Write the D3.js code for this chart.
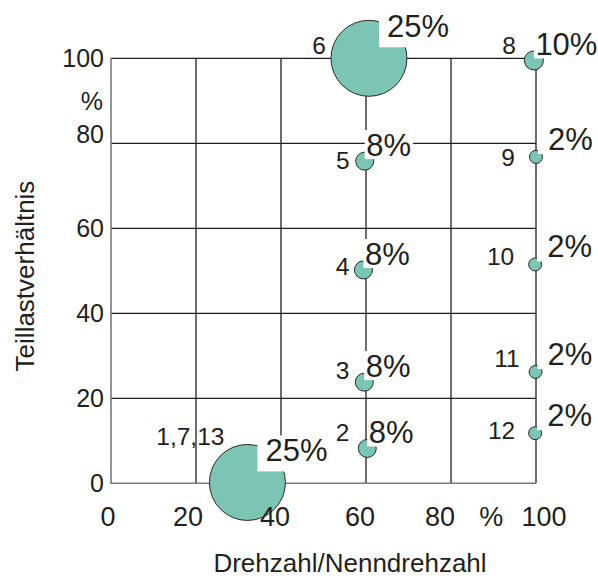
<!DOCTYPE html>
<html>
<head>
<meta charset="utf-8">
<script src="https://cdn.jsdelivr.net/npm/d3@7"></script>
<style>
  html, body { margin: 0; padding: 0; background: #fff; }
  svg { display: block; }
  text { font-family: "Liberation Sans", Arial, sans-serif; fill: #231f20; }
</style>
</head>
<body>
<svg id="chart" width="598" height="579"></svg>
<script>
// ---- data ----
const pointIds   = ["1,7,13", "2", "3", "4", "5", "6", "8", "9", "10", "11", "12"];
const speedPct   = [32.1, 60.3, 59.6, 59.4, 59.7, 60.7, 99.5, 100, 99.8, 99.9, 99.8];
const loadPct    = [0.2, 8.2, 23.8, 50.2, 75.8, 100, 99.5, 76.8, 51.5, 26.2, 11.8];
const weightPct  = [25, 8, 8, 8, 8, 25, 10, 2, 2, 2, 2];
const xTickValues = [0, 20, 40, 60, 80, 100];
const yTickValues = [0, 20, 40, 60, 80, 100];
const xTitle = "Drehzahl/Nenndrehzahl";
const yTitle = "Teillastverhältnis";
const unitLabel = "%";

// ---- layout ----
const svg = d3.select("#chart");
const x = d3.scaleLinear().domain([0, 100]).range([111, 536]);
const y = d3.scaleLinear().domain([0, 100]).range([483.3, 58.3]);
const r = d3.scaleLinear().domain([2, 8, 10, 25]).range([6.5, 9, 9.5, 38]);

// id label placement relative to marker centre (right end, baseline)
const idOffset = {
  "1,7,13": [-23, -37], "2": [-18, -7], "3": [-15, -3], "4": [-14, 5],
  "5": [-15, 8], "6": [-43, -4], "8": [-18, -6], "9": [-21, 9],
  "10": [-21, 1], "11": [-16, -5], "12": [-20, 6]
};

const points = pointIds.map((id, i) => ({
  id, sx: speedPct[i], ly: loadPct[i], w: weightPct[i]
}));

const gridColor = "#1f1f1f";

// grid lines
const grid = svg.append("g");
grid.selectAll("line.v").data(xTickValues.filter(v => v > 0)).join("line")
  .attr("x1", d => x(d)).attr("x2", d => x(d))
  .attr("y1", y(0)).attr("y2", y(100))
  .attr("stroke", gridColor).attr("stroke-width", 1.3);
grid.selectAll("line.h").data(yTickValues.filter(v => v > 0)).join("line")
  .attr("x1", x(0)).attr("x2", x(100))
  .attr("y1", d => y(d)).attr("y2", d => y(d))
  .attr("stroke", gridColor).attr("stroke-width", 1.3);
// left & bottom frame (grey)
grid.append("line").attr("x1", x(0)).attr("x2", x(0)).attr("y1", y(0) + 0.7).attr("y2", y(100))
  .attr("stroke", "#7a7a7a").attr("stroke-width", 1.6);
grid.append("line").attr("x1", x(0)).attr("x2", x(100)).attr("y1", y(0)).attr("y2", y(0))
  .attr("stroke", "#7a7a7a").attr("stroke-width", 1.6);

// markers
svg.append("g").selectAll("circle").data(points).join("circle")
  .attr("cx", d => x(d.sx)).attr("cy", d => y(d.ly)).attr("r", d => r(d.w))
  .attr("fill", "#7cc4b4").attr("stroke", "#2a2a2a").attr("stroke-width", 1);

// percentage labels with white boxes
function pctLayout(w) {
  if (w >= 20) return { tdx: 18, tdy: -21, bdx: 10, bdy: -11 };
  if (w <= 2)  return { tdx: 12, tdy: -7, bdx: 2, bdy: -3 };
  return { tdx: 1.5, tdy: -5, bdx: 0, bdy: -2 };
}
const pctG = svg.append("g");
points.forEach(d => {
  const cx = x(d.sx), cy = y(d.ly), L = pctLayout(d.w);
  const g = pctG.append("g");
  const rect = g.append("rect").attr("fill", "#fff");
  const t = g.append("text")
    .attr("x", cx + L.tdx).attr("y", cy + L.tdy)
    .attr("font-size", 31).text(d.w + "%");
  const bb = t.node().getBBox();
  const rx = cx + L.bdx, ry = bb.y + 2;
  rect.attr("x", rx).attr("y", ry)
    .attr("width", bb.x + bb.width + 2 - rx)
    .attr("height", Math.max(0, cy + L.bdy - ry));
});

// id labels
svg.append("g").selectAll("text").data(points).join("text")
  .attr("x", d => x(d.sx) + idOffset[d.id][0])
  .attr("y", d => y(d.ly) + idOffset[d.id][1])
  .attr("text-anchor", "end").attr("font-size", 24.5)
  .text(d => d.id);

// x tick labels
const xNudge = v => (v === 100 ? 8 : v === 0 ? -3 : v === 80 ? -11 : v === 20 ? -8 : -6);
svg.append("g").selectAll("text").data(xTickValues).join("text")
  .attr("x", d => x(d) + xNudge(d)).attr("y", 526)
  .attr("text-anchor", "middle").attr("font-size", 27)
  .text(d => d);
svg.append("text").attr("x", x(89.5)).attr("y", 526)
  .attr("text-anchor", "middle").attr("font-size", 27).text(unitLabel);

// y tick labels
svg.append("g").selectAll("text").data(yTickValues).join("text")
  .attr("x", 104).attr("y", d => y(d) + (d === 80 ? 0 : 9))
  .attr("text-anchor", "end").attr("font-size", 25)
  .text(d => d);
svg.append("text").attr("x", 103).attr("y", y(90) + 9)
  .attr("text-anchor", "end").attr("font-size", 25).text(unitLabel);

// axis titles
svg.append("text").attr("x", 350).attr("y", 572)
  .attr("text-anchor", "middle").attr("font-size", 26).text(xTitle);
svg.append("text").attr("transform", "translate(34," + 276 + ") rotate(-90)")
  .attr("text-anchor", "middle").attr("font-size", 26).text(yTitle);
</script>
</body>
</html>
